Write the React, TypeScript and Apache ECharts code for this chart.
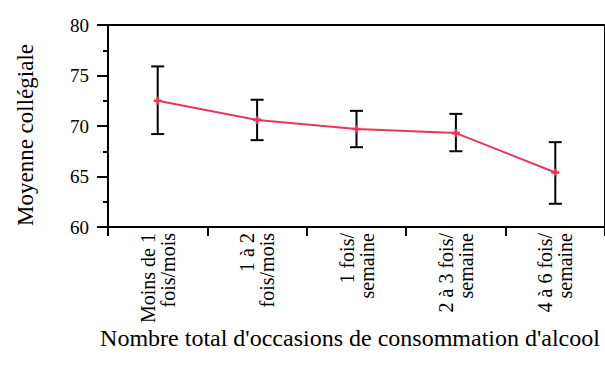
import React, { useEffect, useRef } from "react";
import * as echarts from "echarts";

const categories = [
  "Moins de 1\nfois/mois",
  "1 à 2\nfois/mois",
  "1 fois/\nsemaine",
  "2 à 3 fois/\nsemaine",
  "4 à 6 fois/\nsemaine",
];
const means = [72.5, 70.6, 69.7, 69.3, 65.4];
const lows = [69.2, 68.6, 67.9, 67.5, 62.3];
const highs = [75.9, 72.6, 71.5, 71.2, 68.4];
const yTitle = "Moyenne collégiale";
const xTitle = "Nombre total d'occasions de consommation d'alcool";

const FONT = "Liberation Serif";

export default function App() {
  const ref = useRef<HTMLDivElement>(null);
  useEffect(() => {
    if (!ref.current) return;
    const chart = echarts.init(ref.current, null, { renderer: "svg" });
    const errData = categories.map((_, i) => [i, lows[i], highs[i]]);
    chart.setOption({
      animation: false,
      backgroundColor: "#ffffff",
      grid: {
        left: 108,
        top: 25,
        width: 499,
        height: 202,
        show: true,
        borderColor: "#000",
        borderWidth: 2,
        backgroundColor: "transparent",
      },
      xAxis: {
        type: "category",
        data: categories,
        boundaryGap: true,
        axisLine: { lineStyle: { color: "#000", width: 2 } },
        axisTick: { show: true, length: 9, lineStyle: { color: "#000", width: 2 } },
        axisLabel: {
          rotate: 90,
          margin: 6,
          color: "#000",
          fontFamily: FONT,
          fontSize: 20,
          lineHeight: 20,
          interval: 0,
        },
        splitLine: { show: false },
      },
      yAxis: {
        type: "value",
        min: 60,
        max: 80,
        interval: 5,
        axisLine: { show: true, lineStyle: { color: "#000", width: 2 } },
        axisTick: { show: true, length: 11, lineStyle: { color: "#000", width: 2 } },
        minorTick: { show: true, splitNumber: 2, length: 5, lineStyle: { color: "#000", width: 2 } },
        axisLabel: { margin: 19, color: "#000", fontFamily: FONT, fontSize: 19 },
        splitLine: { show: false },
      },
      graphic: [
        {
          type: "text",
          x: 25,
          y: 135,
          rotation: Math.PI / 2,
          style: {
            text: yTitle,
            fill: "#000",
            fontFamily: FONT,
            fontSize: 23,
            align: "center",
            verticalAlign: "middle",
          },
        },
        {
          type: "text",
          x: 350,
          y: 338,
          style: {
            text: xTitle,
            fill: "#000",
            fontFamily: FONT,
            fontSize: 24,
            align: "center",
            verticalAlign: "middle",
          },
        },
      ],
      series: [
        {
          type: "custom",
          data: errData,
          z: 2,
          renderItem: (params: any, api: any) => {
            const x = api.value(0);
            const lo = api.coord([x, api.value(1)]);
            const hi = api.coord([x, api.value(2)]);
            const half = 6.5;
            const style = { stroke: "#000", lineWidth: 2 };
            return {
              type: "group",
              children: [
                { type: "line", shape: { x1: lo[0], y1: lo[1], x2: hi[0], y2: hi[1] }, style },
                { type: "line", shape: { x1: hi[0] - half, y1: hi[1], x2: hi[0] + half, y2: hi[1] }, style },
                { type: "line", shape: { x1: lo[0] - half, y1: lo[1], x2: lo[0] + half, y2: lo[1] }, style },
              ],
            };
          },
        },
        {
          type: "line",
          data: means,
          z: 5,
          symbol: "path://M2,0h2v2h2v2h-2v2h-2v-2h-2v-2h2z",
          symbolSize: 8,
          itemStyle: { color: "#e8355a" },
          lineStyle: { color: "#e8355a", width: 2 },
        },
      ],
    });
    return () => chart.dispose();
  }, []);
  return (
    <div
      ref={ref}
      style={{ position: "fixed", left: 0, top: 0, width: 605, height: 372 }}
    />
  );
}
